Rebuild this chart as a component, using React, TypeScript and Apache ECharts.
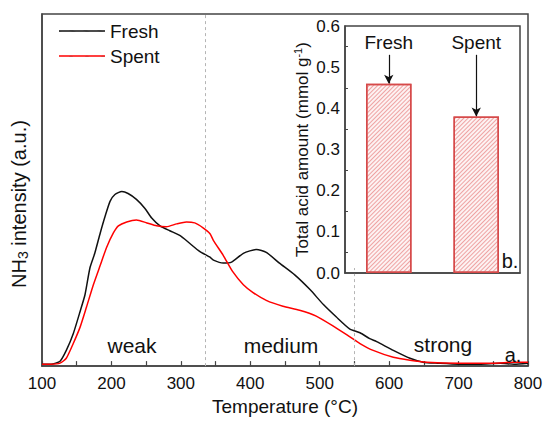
import React, { useEffect, useRef } from 'react';
import * as echarts from 'echarts';

// Main TPD curves (temperature °C, NH3 intensity in arbitrary units)
const freshT = [100, 113, 126, 135, 145, 155, 162, 169, 176, 184, 191, 198, 205, 215, 224, 236, 248, 258, 270, 284, 299, 313, 327, 342, 347, 361, 373, 390, 409, 423, 442, 464, 486, 505, 524, 543, 558, 572, 582, 606, 630, 649, 670, 700, 730, 760, 780, 800];
const freshV = [2, 2, 5, 16, 33, 56, 73, 100, 115, 136, 153, 168, 175, 178, 176, 170, 161, 151, 143, 138, 133, 125, 117, 111, 108, 105, 106, 115, 119, 116, 105, 93, 78, 63, 50, 38, 34, 28, 25, 16, 8, 4, 3, 2, 2, 3, 2, 3];
const spentT = [100, 113, 126, 135, 145, 155, 164, 174, 184, 193, 203, 210, 222, 236, 251, 265, 279, 294, 308, 320, 332, 342, 347, 361, 375, 390, 404, 423, 447, 471, 495, 519, 543, 558, 577, 606, 630, 654, 700, 750, 780, 800];
const spentV = [2, 2, 3, 8, 23, 40, 60, 83, 103, 121, 136, 143, 147, 149, 146, 143, 142, 145, 147, 146, 141, 135, 128, 113, 96, 83, 75, 67, 61, 57, 51, 41, 30, 23, 16, 9, 6, 4, 3, 3, 4, 4];

// Inset bar chart
const barCategories = ['Fresh', 'Spent'];
const barValues = [0.46, 0.38];
const arrowStart = 0.53;

// Axes
const xMin = 100, xMax = 800, xInterval = 100;
const yMax = 359;
const insetMin = 0, insetMax = 0.6, insetInterval = 0.1;

// Region dividers (°C)
const dividerFull = 335;
const dividerLow = 550;
const dividerLowTop = 100;

const FONT = 'Arial, "Liberation Sans", sans-serif';
const AX = '#444';
const TXT = '#111';

export default function App() {
  const ref = useRef<HTMLDivElement>(null);
  useEffect(() => {
    document.body.style.margin = '0';
    const chart = echarts.init(ref.current!, null, { renderer: 'svg' });
    const zip = (t: number[], v: number[]) => t.map((x, i) => [x, v[i]]);
    chart.setOption({
      animation: false,
      backgroundColor: '#fff',
      aria: { enabled: true, decal: { show: true } },
      textStyle: { fontFamily: FONT },
      legend: {
        data: ['Fresh', 'Spent'],
        orient: 'vertical',
        left: 54,
        top: 15,
        icon: 'rect',
        itemWidth: 46,
        itemHeight: 1.6,
        itemGap: 3,
        textStyle: { fontSize: 19, color: TXT, fontFamily: FONT, lineHeight: 22 },
      },
      grid: [
        { left: 42, top: 14, right: 19, bottom: 48, show: true, borderColor: AX, borderWidth: 1.5, backgroundColor: 'transparent' },
        { left: 345, top: 26, right: 27, bottom: 148, show: true, borderColor: AX, borderWidth: 1.5, backgroundColor: '#fff', z: 5 },
      ],
      xAxis: [
        {
          type: 'value', gridIndex: 0, min: xMin, max: xMax, interval: xInterval,
          axisLine: { lineStyle: { color: AX, width: 1.5 } },
          axisTick: { inside: true, length: 5, lineStyle: { color: AX, width: 1.2 } },
          minorTick: { show: true, splitNumber: 2, length: 5, lineStyle: { color: AX, width: 1.2 } },
          splitLine: { show: false },
          axisLabel: { fontSize: 17, color: TXT, margin: 9, fontFamily: FONT },
          name: 'Temperature (°C)', nameLocation: 'middle', nameGap: 25,
          nameTextStyle: { fontSize: 19, color: TXT, fontFamily: FONT },
        },
        {
          type: 'category', gridIndex: 1, data: barCategories, z: 6,
          axisLine: { lineStyle: { color: AX, width: 1.5 } },
          axisTick: { show: false }, axisLabel: { show: false },
        },
      ],
      yAxis: [
        {
          type: 'value', gridIndex: 0, min: 0, max: yMax,
          axisLine: { show: true, lineStyle: { color: AX, width: 1.5 } },
          axisTick: { show: false }, axisLabel: { show: false }, splitLine: { show: false },
          name: 'NH{sub|3} intensity (a.u.)', nameLocation: 'middle', nameGap: 12,
          nameTextStyle: {
            fontSize: 20, color: TXT, fontFamily: FONT, lineHeight: 22, padding: [0, 28, 0, 0],
            rich: { sub: { fontSize: 14, color: TXT, fontFamily: FONT, verticalAlign: 'bottom', lineHeight: 15 } },
          },
        },
        {
          type: 'value', gridIndex: 1, min: insetMin, max: insetMax, interval: insetInterval, z: 6,
          axisLine: { show: true, lineStyle: { color: AX, width: 1.5 } },
          axisTick: { inside: true, length: 5, lineStyle: { color: AX, width: 1.2 } },
          minorTick: { show: true, splitNumber: 2, length: 3, lineStyle: { color: AX, width: 1 } },
          splitLine: { show: false },
          axisLabel: { fontSize: 17, color: TXT, margin: 5, fontFamily: FONT, formatter: (v: number) => v.toFixed(1) },
          name: 'Total acid amount (mmol g{sup|-1})', nameLocation: 'middle', nameGap: 31,
          nameTextStyle: {
            fontSize: 17, color: TXT, fontFamily: FONT, lineHeight: 20,
            rich: { sup: { fontSize: 11, color: TXT, fontFamily: FONT, verticalAlign: 'top', lineHeight: 12 } },
          },
        },
      ],
      series: [
        {
          name: 'Fresh', type: 'line', xAxisIndex: 0, yAxisIndex: 0,
          data: zip(freshT, freshV), symbol: 'none', smooth: 0.2, color: TXT,
          lineStyle: { color: TXT, width: 1.5 },
          markLine: {
            silent: true, symbol: ['none', 'none'],
            lineStyle: { type: [3, 3], color: '#b5b5b5', width: 1 },
            label: { show: false },
            data: [
              { xAxis: dividerFull },
              [{ coord: [dividerLow, 0] }, { coord: [dividerLow, dividerLowTop] }],
            ],
          },
        },
        {
          name: 'Spent', type: 'line', xAxisIndex: 0, yAxisIndex: 0,
          data: zip(spentT, spentV), symbol: 'none', smooth: 0.2, color: '#ff0000',
          lineStyle: { color: '#ff0000', width: 1.5 },
        },
        {
          name: 'Total acid amount', type: 'bar', xAxisIndex: 1, yAxisIndex: 1, z: 7,
          data: barValues, barWidth: '52%',
          itemStyle: {
            color: '#fdf2f2', borderColor: '#d64a4a', borderWidth: 1.5,
            decal: {
              symbol: 'rect', symbolSize: 1, dashArrayX: [1, 0], dashArrayY: [1, 1.5],
              rotation: -Math.PI / 4, color: 'rgba(228,110,110,0.6)', backgroundColor: '#fdf2f2',
            },
          },
          markLine: {
            silent: true, symbol: ['none', 'arrow'], symbolSize: [7, 9],
            lineStyle: { type: 'solid', color: TXT, width: 1.2 },
            label: { show: true, position: 'start', formatter: '{b}', fontSize: 19, color: TXT, fontFamily: FONT, distance: 3 },
            data: barCategories.map((c, i) => [
              { name: c, coord: [c, arrowStart] },
              { coord: [c, barValues[i]] },
            ]),
          },
        },
      ],
      graphic: [
        { type: 'text', x: 132, y: 345, z: 10, style: { text: 'weak', fontSize: 21, fontFamily: FONT, fill: TXT, align: 'center', verticalAlign: 'middle' } },
        { type: 'text', x: 281, y: 345, z: 10, style: { text: 'medium', fontSize: 21, fontFamily: FONT, fill: TXT, align: 'center', verticalAlign: 'middle' } },
        { type: 'text', x: 443, y: 344, z: 10, style: { text: 'strong', fontSize: 21, fontFamily: FONT, fill: TXT, align: 'center', verticalAlign: 'middle' } },
        { type: 'text', x: 513, y: 355, z: 10, style: { text: 'a.', fontSize: 20, fontFamily: FONT, fill: TXT, align: 'center', verticalAlign: 'middle' } },
        { type: 'text', x: 510, y: 261, z: 10, style: { text: 'b.', fontSize: 20, fontFamily: FONT, fill: TXT, align: 'center', verticalAlign: 'middle' } },
      ],
    });
    return () => chart.dispose();
  }, []);
  return <div ref={ref} style={{ width: 547, height: 421 }} />;
}
